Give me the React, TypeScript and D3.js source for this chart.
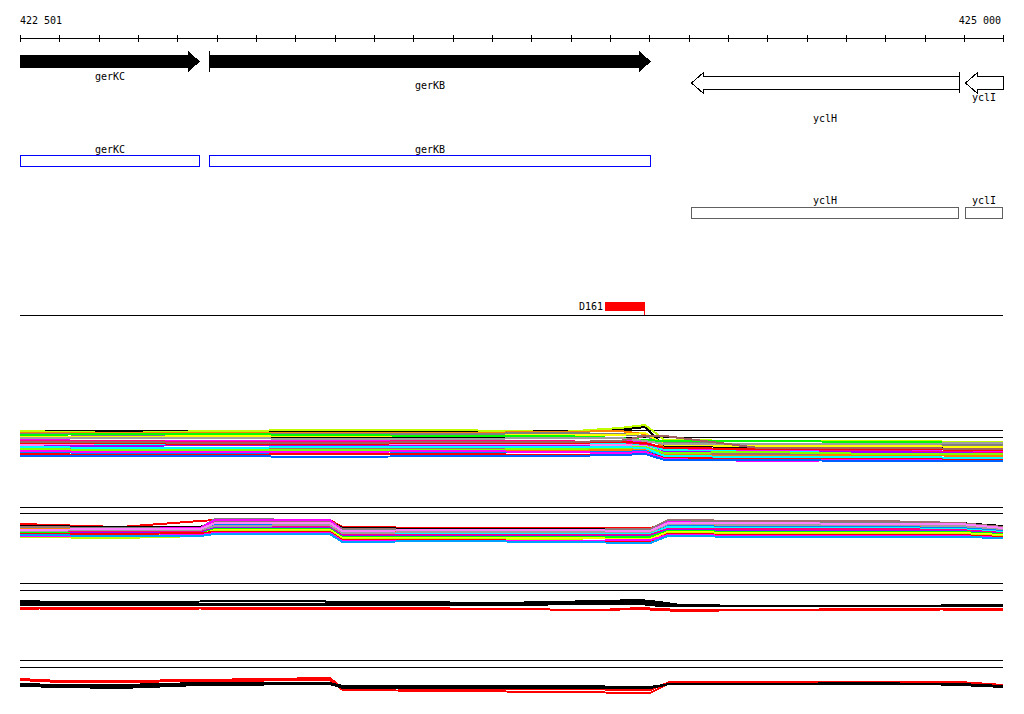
import React from "react";
import * as d3 from "d3";

// ---------- genome window ----------
const VIEW_START = 422501;
const VIEW_END = 425000;
const TICK_STEP = 100;

// ---------- genes ----------
const geneNames = ["gerKC", "gerKB", "yclH", "yclI"];
const geneStarts = [422400, 422982, 424206, 424903];
const geneEnds = [422959, 424105, 424888, 425100];
const geneStrands = [1, 1, -1, -1];
const geneFilled = [true, true, false, false];

// ---------- features ----------
const featureNames = ["D161"];
const featureStarts = [423987];
const featureEnds = [424090];

// ---------- track 1 ----------
const t1Pos = [422501, 422755, 422985, 423290, 423595, 423875, 424025, 424090, 424140, 424380, 424690, 425000];
const t1Refs = [40, 33];
const t1Colors = [
  "#000000", "#c0ff00", "#ff8000", "#808080", "#ffff00", "#00ff00", "#ff00ff", "#ff0080",
  "#00ffff", "#a000ff", "#ff80ff", "#a07070", "#0080ff", "#ff0000", "#ff8000", "#80ff00",
  "#00ffff", "#ff00ff", "#a0a0a0", "#ff0000", "#0060ff", "#a06060",
];
const t1Series = [
  [38, 38, 38, 39, 39, 39, 40, 43, 24, 23, 23, 23],
  [39, 37, 39, 40, 40, 38, 42, 45, 30, 29, 29, 28],
  [37, 37, 37, 37, 37, 38, 39, 36, 22, 20, 19, 18],
  [36, 35, 35, 36, 36, 37, 36, 34, 27, 26, 25, 25],
  [33, 33, 34, 34, 34, 35, 35, 37, 25, 24, 24, 23],
  [35, 36, 36, 35, 34, 34, 32, 30, 29, 29, 28, 27],
  [30, 29, 29, 29, 29, 28, 29, 28, 21, 20, 19, 18],
  [29, 29, 28, 28, 29, 29, 27, 26, 19, 18, 19, 17],
  [26, 26, 26, 26, 25, 25, 26, 24, 20, 18, 18, 16],
  [24, 24, 25, 25, 24, 24, 24, 23, 18, 17, 18, 16],
  [25, 27, 27, 26, 26, 26, 25, 24, 17, 16, 15, 15],
  [21, 22, 22, 22, 22, 21, 21, 22, 16, 16, 16, 15],
  [18, 17, 17, 16, 17, 18, 18, 19, 13, 12, 11, 11],
  [16, 15, 15, 16, 16, 15, 16, 18, 12, 11, 11, 10],
  [20, 20, 20, 19, 19, 20, 20, 21, 15, 14, 15, 14],
  [21, 20, 20, 20, 20, 21, 22, 23, 17, 18, 16, 16],
  [23, 22, 22, 23, 23, 23, 23, 22, 14, 13, 13, 12],
  [19, 18, 18, 18, 19, 18, 17, 18, 11, 9, 10, 9],
  [32, 32, 32, 31, 31, 32, 32, 29, 26, 26, 26, 27],
  [27, 27, 26, 26, 27, 27, 28, 27, 22, 21, 21, 20],
  [14, 14, 14, 13, 14, 14, 15, 16, 10, 10, 9, 9],
  [28, 28, 27, 27, 28, 28, 29, 34, 34, 22, 22, 21],
];

// ---------- track 2 ----------
const t2Pos = [422501, 422755, 422959, 422997, 423289, 423320, 423594, 423874, 424103, 424148, 424382, 424687, 424891, 425000];
const t2Refs = [43, 37];
const t2Colors = [
  "#ff0000", "#000000", "#a07070", "#808080", "#ff00ff", "#ff8000", "#0080ff", "#00ffff",
  "#ff0080", "#a000ff", "#00ff00", "#ffff00", "#c0ff00", "#ff0000", "#ff00ff", "#00a0ff",
  "#a0a0a0", "#ff80ff",
];
const t2Series = [
  [26, 23, 29, 30, 30, 23, 22, 22, 22, 26, 26, 26, 25, 23],
  [24, 23, 23, 28, 29, 22, 21, 21, 21, 29, 28, 28, 27, 24],
  [23, 22, 22, 29, 29, 21, 20, 20, 21, 30, 29, 29, 27, 23],
  [22, 22, 22, 31, 30, 20, 20, 19, 20, 29, 27, 27, 26, 22],
  [21, 21, 22, 30, 30, 19, 19, 19, 19, 28, 26, 25, 25, 21],
  [21, 20, 20, 26, 26, 18, 18, 18, 18, 25, 24, 24, 23, 20],
  [20, 19, 19, 25, 25, 17, 17, 17, 17, 24, 23, 23, 22, 19],
  [19, 19, 19, 24, 24, 16, 16, 16, 16, 23, 22, 22, 21, 18],
  [18, 18, 18, 23, 23, 15, 15, 15, 15, 21, 21, 21, 20, 17],
  [17, 17, 17, 22, 22, 14, 14, 14, 14, 20, 19, 19, 19, 16],
  [17, 16, 16, 21, 21, 13, 13, 13, 13, 19, 18, 18, 18, 16],
  [16, 15, 15, 20, 20, 12, 12, 12, 11, 18, 17, 17, 17, 15],
  [13, 12, 14, 19, 19, 11, 11, 10, 8, 17, 16, 16, 16, 14],
  [16, 16, 17, 18, 18, 10, 10, 9, 9, 16, 15, 15, 15, 13],
  [14, 14, 15, 17, 17, 9, 9, 9, 10, 15, 14, 14, 14, 12],
  [15, 14, 14, 16, 16, 8, 9, 8, 7, 14, 13, 13, 13, 12],
  [19, 20, 20, 24, 25, 17, 18, 18, 18, 26, 25, 25, 24, 21],
  [20, 21, 21, 27, 27, 19, 20, 20, 19, 27, 27, 26, 26, 22],
];

// ---------- track 3 ----------
const t3Pos = [422501, 422603, 422832, 423086, 423467, 423721, 423975, 424077, 424128, 424179, 424382, 424687, 425000];
const t3Refs = [37, 30];
const t3Colors = ["#000000", "#000000", "#000000", "#000000", "#ff0000", "#ff0000"];
const t3Series = [
  [19, 18, 18, 19, 18, 17, 19, 20, 18, 15, 14, 14, 14],
  [18, 17, 16, 16, 17, 16, 18, 19, 16, 14, 14, 14, 15],
  [16, 16, 15, 16, 16, 15, 17, 17, 15, 14, 14, 14, 14],
  [15, 15, 15, 15, 15, 15, 16, 16, 14, 14, 14, 14, 14],
  [12, 11, 11, 12, 12, 11, 10, 12, 11, 10, 10, 10, 11],
  [11, 12, 12, 11, 11, 11, 10, 11, 10, 9, 10, 11, 10],
];

// ---------- track 4 ----------
const t4Pos = [422501, 422603, 422755, 422959, 423289, 423321, 423594, 423874, 424103, 424153, 424382, 424687, 424891, 425000];
const t4Refs = [40, 33];
const t4Colors = ["#ff0000", "#ff0000", "#000000", "#000000", "#000000"];
const t4Series = [
  [21, 19, 19, 20, 22, 12, 11, 11, 10, 18, 18, 18, 18, 15],
  [20, 18, 18, 19, 20, 10, 9, 8, 7, 17, 18, 18, 17, 14],
  [16, 15, 15, 17, 17, 14, 14, 14, 13, 16, 16, 16, 16, 14],
  [15, 14, 13, 16, 16, 13, 13, 13, 12, 16, 16, 16, 16, 13],
  [14, 13, 12, 15, 16, 12, 12, 12, 12, 16, 16, 17, 15, 13],
];

// ---------- layout ----------
const W = 1024;
const H = 714;
const LEFT = 20;
const RIGHT = 1003;
const FONT = "'DejaVu Sans Mono', 'Liberation Mono', monospace";

const tracks = [
  { pos: t1Pos, series: t1Series, colors: t1Colors, refs: t1Refs, base: 470 },
  { pos: t2Pos, series: t2Series, colors: t2Colors, refs: t2Refs, base: 550 },
  { pos: t3Pos, series: t3Series, colors: t3Colors, refs: t3Refs, base: 620 },
  { pos: t4Pos, series: t4Series, colors: t4Colors, refs: t4Refs, base: 700 },
];

const geneLabelY = [80, 89, 122, 101];
const boxLabelY = [153, 153, 204, 204];
const boxTop = [155, 155, 207, 207];
const boxColor = ["#0000ff", "#0000ff", "#606060", "#606060"];

export default function App() {
  const x = d3.scaleLinear().domain([VIEW_START, VIEW_END]).range([LEFT, RIGHT]);
  const cx = (v: number) => x(Math.max(VIEW_START, Math.min(VIEW_END, v)));
  const ticks = [...d3.range(VIEW_START, VIEW_END, TICK_STEP), VIEW_END];
  const fmt = (v: number) => d3.format(",")(v).replace(/,/g, " ");

  const genes = geneNames.map((name, i) => {
    const s = geneStarts[i];
    const e = geneEnds[i];
    const xs = Math.round(cx(s));
    const xe = Math.round(cx(e));
    const plus = geneStrands[i] > 0;
    const bt = plus ? 55 : 76;
    const bb = plus ? 68 : 89;
    const ht = plus ? 51 : 72;
    const hb = plus ? 72 : 93;
    const mid = (ht + hb) / 2;
    const hl = 12;
    let pts: [number, number][];
    if (plus) {
      if (e <= VIEW_END) {
        pts = [[xs, bt], [xe - hl, bt], [xe - hl, ht], [xe, mid], [xe - hl, hb], [xe - hl, bb], [xs, bb]];
      } else {
        pts = [[xs, bt], [xe, bt], [xe, bb], [xs, bb]];
      }
    } else {
      if (s >= VIEW_START) {
        pts = [[xs, mid], [xs + hl, ht], [xs + hl, bt], [xe, bt], [xe, bb], [xs + hl, bb], [xs + hl, hb]];
      } else {
        pts = [[xs, bt], [xe, bt], [xe, bb], [xs, bb]];
      }
    }
    const off = geneFilled[i] ? 0 : 0.5;
    const d = "M" + pts.map((p) => `${p[0] + off},${p[1] + off}`).join("L") + "Z";
    let bar: number | null = null;
    if (plus && s >= VIEW_START) bar = xs;
    if (!plus && e <= VIEW_END) bar = xe;
    return { name, i, xs, xe, d, bar, ht, hb, filled: geneFilled[i] };
  });

  return (
    <div style={{ position: "absolute", left: 0, top: 0 }}>
      <svg width={W} height={H} style={{ display: "block", background: "#ffffff" }} fontFamily={FONT} fontSize={10}>
        {/* axis */}
        <text x={LEFT} y={24} fill="#000">{fmt(VIEW_START)}</text>
        <text x={RIGHT - 2} y={24} fill="#000" textAnchor="end">{fmt(VIEW_END)}</text>
        <line x1={LEFT} x2={RIGHT} y1={38.5} y2={38.5} stroke="#000" shapeRendering="crispEdges" />
        {ticks.map((t) => (
          <line key={t} x1={Math.round(x(t)) + 0.5} x2={Math.round(x(t)) + 0.5} y1={35} y2={42} stroke="#000" shapeRendering="crispEdges" />
        ))}

        {/* genes as arrows */}
        {genes.map((g) => (
          <g key={g.name}>
            <path d={g.d} fill={g.filled ? "#000" : "#fff"} stroke="#000" strokeWidth={g.filled ? 0 : 1} shapeRendering="crispEdges" />
            {g.bar !== null && (
              <line x1={g.bar + 0.5} x2={g.bar + 0.5} y1={g.ht} y2={g.hb} stroke="#000" shapeRendering="crispEdges" />
            )}
            <text x={(g.xs + g.xe) / 2} y={geneLabelY[g.i]} textAnchor="middle" fill="#000">{g.name}</text>
          </g>
        ))}

        {/* gene boxes */}
        {genes.map((g) => (
          <g key={"box" + g.name}>
            <text x={(g.xs + g.xe) / 2} y={boxLabelY[g.i]} textAnchor="middle" fill="#000">{g.name}</text>
            <rect x={g.xs + 0.5} y={boxTop[g.i] + 0.5} width={g.xe - g.xs - 1} height={11} fill="none" stroke={boxColor[g.i]} shapeRendering="crispEdges" />
          </g>
        ))}

        {/* features */}
        {featureNames.map((n, i) => {
          const fs = Math.round(cx(featureStarts[i]));
          const fe = Math.round(cx(featureEnds[i]));
          return (
            <g key={n}>
              <text x={fs - 2} y={310} textAnchor="end" fill="#000">{n}</text>
              <rect x={fs} y={302} width={fe - fs} height={9} fill="#ff0000" shapeRendering="crispEdges" />
              <line x1={fe - 0.5} x2={fe - 0.5} y1={311} y2={315} stroke="#ff0000" shapeRendering="crispEdges" />
            </g>
          );
        })}
        <line x1={LEFT} x2={RIGHT} y1={315.5} y2={315.5} stroke="#000" shapeRendering="crispEdges" />

        {/* expression tracks */}
        {tracks.map((tr, ti) => {
          const y = d3.scaleLinear().domain([0, 50]).range([tr.base, tr.base - 50]);
          const line = d3
            .line<number>()
            .x((_, i) => x(tr.pos[i]))
            .y((d) => y(d));
          return (
            <g key={"track" + ti}>
              {tr.refs.map((r, ri) => (
                <line key={ri} x1={LEFT} x2={RIGHT} y1={Math.round(y(r)) + 0.5} y2={Math.round(y(r)) + 0.5} stroke="#000" shapeRendering="crispEdges" />
              ))}
              {tr.series.map((s, si) => (
                <path key={si} d={line(s) || ""} fill="none" stroke={tr.colors[si]} strokeWidth={2} shapeRendering="crispEdges" />
              ))}
            </g>
          );
        })}
      </svg>
    </div>
  );
}
